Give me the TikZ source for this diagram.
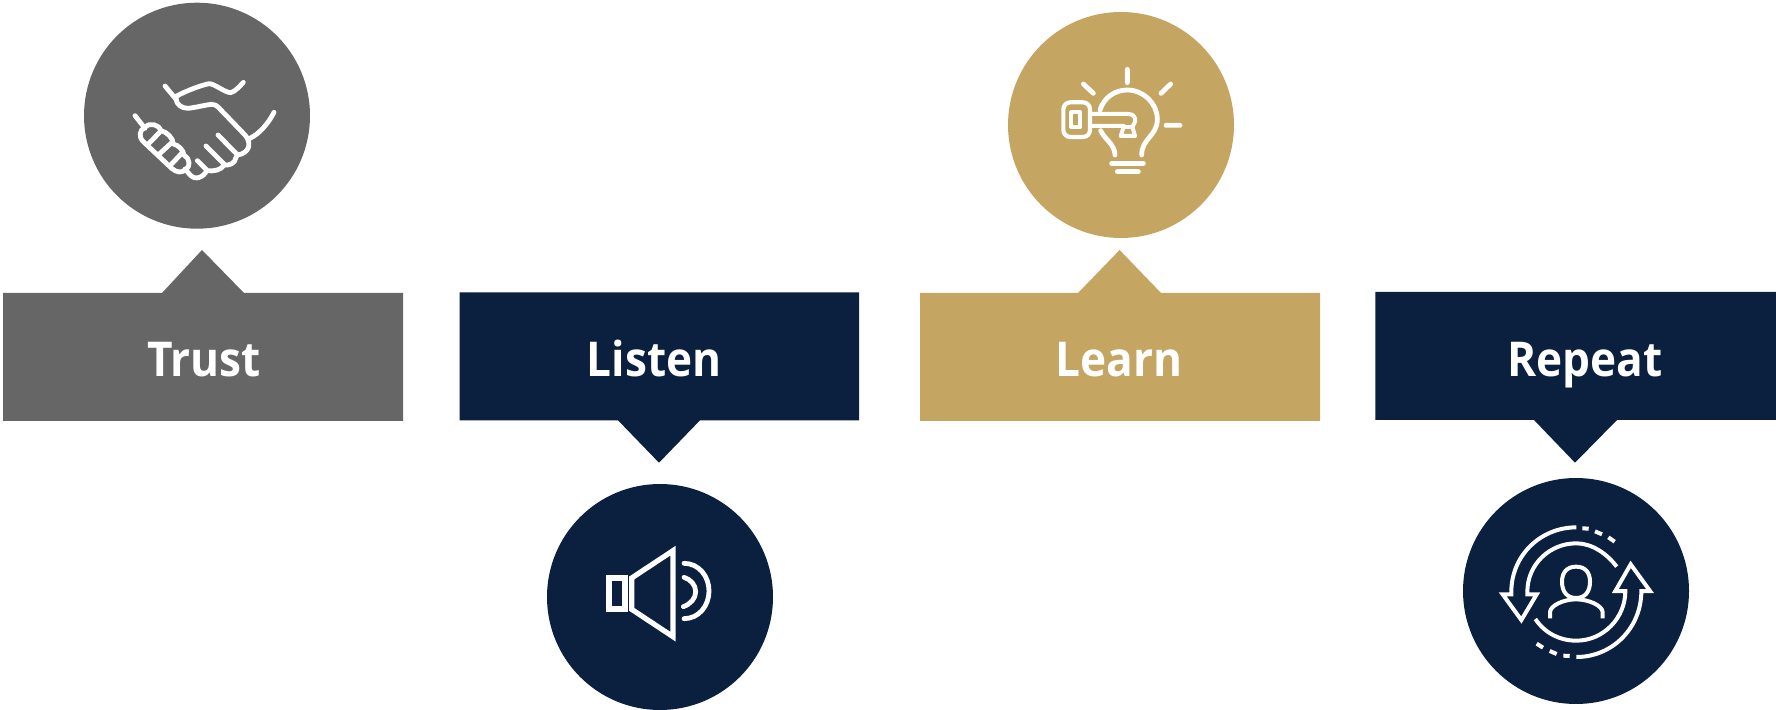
\documentclass[tikz,border=0pt]{standalone}
\usepackage{fontspec}
\setmainfont{Open Sans}[BoldFont={Open Sans Bold}]
\definecolor{greyc}{HTML}{666666}
\definecolor{navyc}{HTML}{0B1F3E}
\definecolor{goldc}{HTML}{C4A662}
\tikzset{
  disc/.style={circle,minimum size=113pt,inner sep=0pt,outer sep=0pt,fill=#1},
  label/.style={text=white,anchor=base,inner sep=0pt,xscale=0.92,transform shape,font=\fontsize{24}{28}\selectfont\bfseries},
  icon/.style={draw=white,line width=#1,line cap=round,line join=round},
  icon/.default=2.4pt,
  sharp/.style={draw=white,line width=#1,line cap=butt,line join=miter,miter limit=10}
}
\begin{document}
\begin{tikzpicture}[x=0.5pt,y=-0.5pt]
\useasboundingbox (0,0) rectangle (1776,710);
% boxes
\fill[greyc] (3,293)--(162,293)--(202,250)--(244,293)--(403,293)--(403,421)--(3,421)--cycle;
\fill[navyc] (459.5,292.3)--(859,292.3)--(859,420.3)--(700,420.3)--(659,462.7)--(618,420.3)--(459.5,420.3)--cycle;
\fill[goldc] (920,293)--(1078,293)--(1119.6,250)--(1161,293)--(1320,293)--(1320,421)--(920,421)--cycle;
\fill[navyc] (1375.4,292)--(1776,292)--(1776,420)--(1617,420)--(1575,462.7)--(1534,420)--(1375.4,420)--cycle;
% discs
\node[disc=greyc] (ctrust) at (197,115.7) {};
\node[disc=goldc] (clearn) at (1121,125) {};
\node[disc=navyc] (clisten) at (660,597) {};
\node[disc=navyc] (crepeat) at (1576,591) {};
% labels
\node[label] (ltrust) at (204,377) {Trust};
\node[label] (llisten) at (654,377) {Listen};
\node[label] (llearn) at (1119,377) {Learn};
\node[label] (lrepeat) at (1585,377) {Repeat};
% handshake
\begin{scope}[shift={(80,0)},x=0.16667pt,y=-0.16667pt]
\draw[icon] (255,258)--(290,300);
\draw[icon] (290,288) .. controls (320,272) and (365,255) .. (388,251) .. controls (405,252) and (435,278) .. (452,278) .. controls (465,275) and (478,260) .. (490,247);
\draw[icon] (287,295) .. controls (290,315) and (305,325) .. (325,325) .. controls (350,322) and (375,315) .. (395,313) .. controls (405,313) and (410,317) .. (415,322) -- (495,405) .. controls (512,425) and (512,450) .. (485,462) .. controls (470,465) and (470,465) .. (468,472) .. controls (465,490) and (450,497) .. (432,495) .. controls (425,510) and (400,515) .. (380,512) .. controls (372,530) and (345,545) .. (328,522) -- (315,507);
\draw[icon] (414,405)--(470,462) (378,438)--(435,495) (352,482)--(380,510);
\draw[icon] (510,415) .. controls (540,400) and (565,370) .. (582,337);
\draw[icon] (165,347)--(195,385);
\draw[icon] (195,380) .. controls (210,368) and (235,372) .. (243,392) .. controls (260,395) and (280,415) .. (280,432) .. controls (295,435) and (310,450) .. (312,465) .. controls (330,475) and (332,500) .. (318,508) .. controls (305,520) and (290,518) .. (275,505) -- (190,425) .. controls (175,410) and (178,392) .. (195,380);
\draw[icon] (207,430)--(238,398) (238,462)--(275,428) (272,495)--(305,460);
\end{scope}
% key and bulb
\begin{scope}[shift={(1000,10)},x=0.16667pt,y=-0.16667pt]
\draw[icon] (300,300) .. controls (312,262) and (345,240) .. (382,240) .. controls (430,240) and (472,280) .. (472,328) .. controls (472,378) and (425,385) .. (425,435);
\draw[icon] (302,362) .. controls (315,390) and (343,400) .. (345,435);
\draw[icon] (382,178)--(382,218) (250,222)--(280,250) (512,222)--(483,250) (498,346)--(540,346);
\draw[icon] (335,460)--(430,460) (352,485)--(415,485);
\draw[icon=2.1pt,rounded corners=3.5pt] (190,277) rectangle (270,381);
\draw[icon=2pt] (270,312) -- (385,312) .. controls (400,312) and (408,322) .. (405,335) .. controls (403,345) and (398,345) .. (397,350);
\draw[icon=2pt] (270,348) -- (372,348) -- (362,378) -- (405,378) -- (397,350);
\draw[icon=2pt] (372,350) -- (397,350);
\draw[icon=2.1pt] (214,307) rectangle (241,352);
\end{scope}
% speaker
\begin{scope}[shift={(540,480)},x=0.16667pt,y=-0.16667pt]
\draw[sharp=3pt] (207,294) rectangle (255,386);
\draw[sharp=2.6pt] (275,294)--(399,212)--(399,470)--(275,388)--cycle;
\draw[icon=2.4pt] (432,250) .. controls (476,250) and (507,288) .. (507,333) .. controls (507,378) and (476,416) .. (432,416);
\draw[icon=2.4pt] (432,292) .. controls (452,298) and (467,315) .. (467,335) .. controls (467,355) and (452,372) .. (430,380);
\end{scope}
% repeat
\begin{scope}[shift={(1460,475)},x=0.16667pt,y=-0.16667pt]
\draw[sharp=2pt] (349,157) .. controls (241,157) and (154,242) .. (154,350) -- (154,358) -- (128,358) -- (184,435) -- (230,358) -- (202,358) -- (202,350) .. controls (202,269) and (268,205) .. (349,205) .. controls (395,205) and (440,235) .. (470,275);
\draw[sharp=2pt] (349,546) .. controls (457,546) and (544,459) .. (544,348) -- (570,348) -- (512,268) -- (466,348) -- (496,348) .. controls (496,429) and (430,497) .. (349,497) .. controls (300,497) and (255,475) .. (226,432);
\draw[sharp=2pt] (367,160)--(386,161) (405,169)--(426,178) (445,187)--(464,200);
\draw[sharp=2pt] (329,543)--(310,542) (290,537)--(269,528) (249,518)--(230,506);
\draw[sharp=2pt] (348,275) .. controls (375,275) and (390,292) .. (390,320) .. controls (390,350) and (375,369) .. (348,369) .. controls (321,369) and (306,350) .. (306,320) .. controls (306,292) and (321,275) .. (348,275) -- cycle;
\draw[sharp=2pt] (270,430) -- (270,412) .. controls (270,392) and (310,373) .. (348,373) .. controls (386,373) and (428,392) .. (428,412) -- (428,430);
\end{scope}
\end{tikzpicture}
\end{document}
